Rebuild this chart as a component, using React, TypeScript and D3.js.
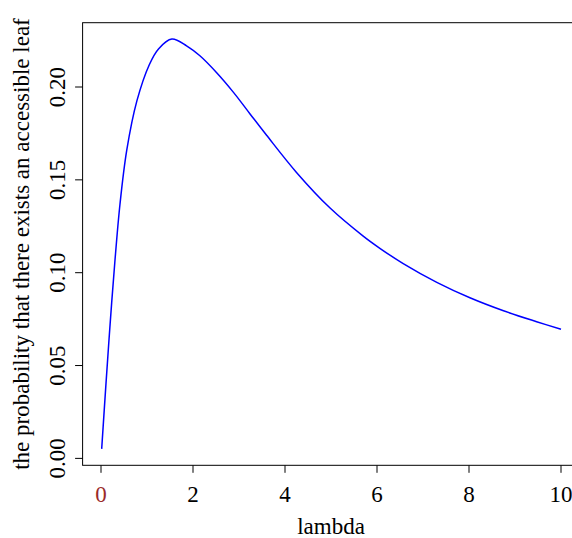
import React from "react";
import * as d3 from "d3";

// values
const lambdas = [0.015, 0.109, 0.2, 0.3, 0.413, 0.56, 0.78, 1.05, 1.25, 1.54, 1.86, 2.15, 2.51, 2.88, 3.24, 3.6, 4.25, 4.98, 5.7, 6.07, 6.57, 7.3, 8.02, 8.75, 9.47, 10.0];
const probs = [0.0051, 0.0405, 0.073, 0.1055, 0.137, 0.166, 0.1925, 0.212, 0.2205, 0.2258, 0.2222, 0.2168, 0.2078, 0.1971, 0.1855, 0.174, 0.154, 0.1348, 0.1197, 0.113, 0.1049, 0.0948, 0.0865, 0.0795, 0.0736, 0.0695];
const xTicks = [0, 2, 4, 6, 8, 10];
const yTicks = [0, 0.05, 0.1, 0.15, 0.2];
const xTitle = "lambda";
const yTitle = "the probability that there exists an accessible leaf";

const W = 572;
const H = 538;
const left = 82.6, right = 579.4, top = 22.7, bottom = 465.3;
const font = "'Liberation Serif', 'Times New Roman', serif";
const fs = 23;

export default function App() {
  // R style 4% padding of the ranges
  const xPad = (10 - 0) * 0.04;
  const x = d3.scaleLinear().domain([0 - xPad, 10 + xPad]).range([left, right]);
  const [ymin, ymax] = d3.extent(probs) as [number, number];
  const yPad = (ymax - ymin) * 0.04;
  const y = d3.scaleLinear().domain([ymin - yPad, ymax + yPad]).range([bottom, top]);

  const line = d3
    .line<number>()
    .x((d, i) => x(lambdas[i]))
    .y((d) => y(d))
    .curve(d3.curveCatmullRom.alpha(0.5));

  return (
    <svg width={W} height={H} style={{ position: "absolute", left: 0, top: 0, background: "#fff" }}>
      <rect x={left} y={top} width={right - left} height={bottom - top} fill="none" stroke="#000" strokeWidth={1} />
      <path d={line(probs) || ""} fill="none" stroke="#0000ff" strokeWidth={1.5} />
      {xTicks.map((t) => (
        <g key={"x" + t}>
          <line x1={x(t)} x2={x(t)} y1={bottom} y2={bottom + 7.5} stroke="#000" />
          <text
            x={x(t)}
            y={502}
            textAnchor="middle"
            fontFamily={font}
            fontSize={fs}
            fill={t === 0 ? "#9a2a2a" : "#000"}
          >
            {t}
          </text>
        </g>
      ))}
      {yTicks.map((t) => (
        <g key={"y" + t}>
          <line x1={left - 7.5} x2={left} y1={y(t)} y2={y(t)} stroke="#000" />
          <text
            transform={`translate(65, ${y(t)}) rotate(-90)`}
            textAnchor="middle"
            fontFamily={font}
            fontSize={fs}
          >
            {t.toFixed(2)}
          </text>
        </g>
      ))}
      <text x={(left + right) / 2} y={534} textAnchor="middle" fontFamily={font} fontSize={fs}>
        {xTitle}
      </text>
      <text
        transform={`translate(29, ${(top + bottom) / 2}) rotate(-90)`}
        textAnchor="middle"
        fontFamily={font}
        fontSize={fs}
      >
        {yTitle}
      </text>
    </svg>
  );
}
